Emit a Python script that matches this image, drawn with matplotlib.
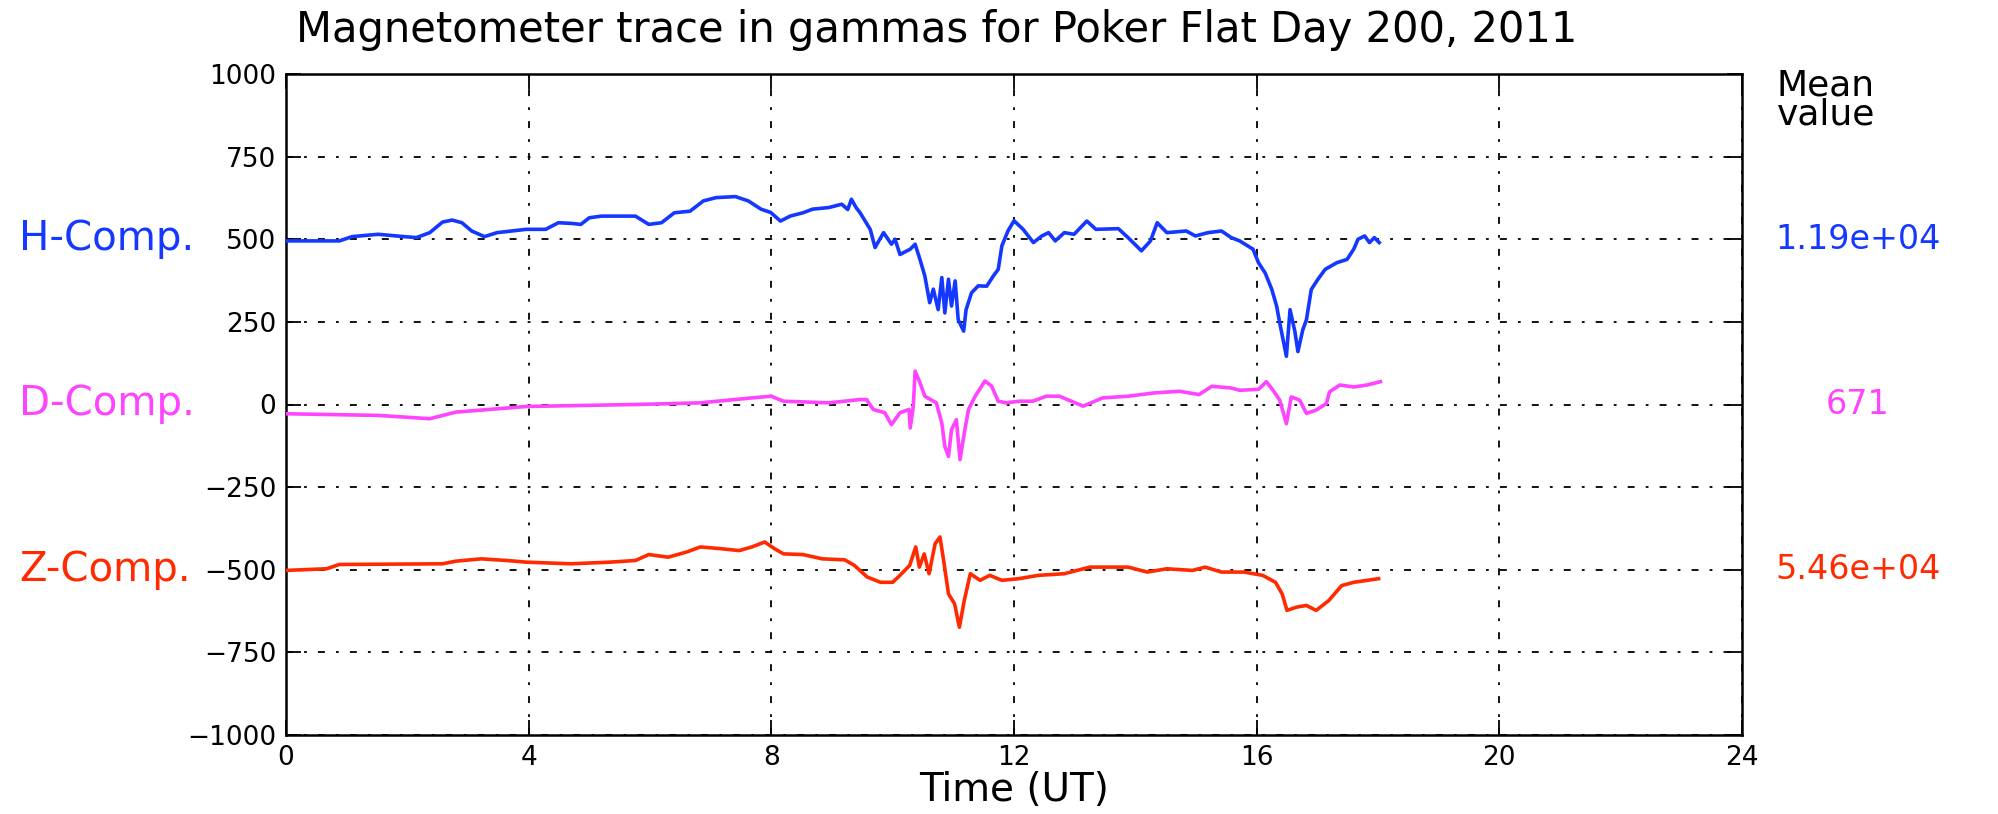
import matplotlib
matplotlib.use('Agg')
import matplotlib.pyplot as plt
import matplotlib.transforms as mtransforms

plt.rcParams['font.family'] = ['DejaVu Sans']
plt.rcParams['lines.scale_dashes'] = False

# H component (gammas, offset around mean), hours UT
h_time = [0.0, 0.88, 1.09, 1.52, 1.94, 2.15, 2.37, 2.58, 2.74, 2.9, 3.06, 3.27, 3.48, 3.96, 4.28, 4.49,
          4.7, 4.86, 5.0, 5.2, 5.76, 5.98, 6.19, 6.4, 6.66, 6.88, 7.09, 7.41, 7.62, 7.83, 7.99, 8.15,
          8.31, 8.52, 8.68, 8.95, 9.16, 9.26, 9.32, 9.4,
          9.46, 9.63, 9.71, 9.85, 9.98, 10.04, 10.12, 10.29, 10.37, 10.45, 10.53, 10.61, 10.67,
          10.75, 10.81, 10.86, 10.92, 10.97, 11.03, 11.08, 11.17, 11.21, 11.3, 11.41, 11.55, 11.66,
          11.74, 11.8, 11.9, 12.0, 12.15, 12.32, 12.46, 12.57, 12.68,
          12.83, 12.99, 13.2, 13.35, 13.72, 13.88, 14.1, 14.25, 14.36, 14.52, 14.84, 14.99, 15.2,
          15.42, 15.58,
          15.72, 15.94, 16.03, 16.14, 16.25, 16.33, 16.38, 16.49, 16.55, 16.63, 16.68, 16.76, 16.82,
          16.9, 17.01, 17.13, 17.32, 17.49, 17.6, 17.67, 17.78, 17.86, 17.94, 18.02]
h_vals = [495, 495, 508, 515, 508, 505, 520, 552, 558, 550, 525, 508, 520, 530, 530, 550,
          548, 545, 565, 570, 570, 545, 550, 580, 585, 616, 626, 629, 616, 591, 581, 555,
          570, 580, 591, 596, 606, 590, 621, 595,
          581, 530, 475, 520, 485, 500, 454, 470, 485, 439, 389, 308, 349,
          287, 384, 277, 379, 298, 374, 257, 222, 287, 338, 359, 358, 389,
          409, 480, 525, 556, 530, 490, 510, 520, 495,
          520, 515, 555, 530, 532, 505, 465, 495, 550, 520, 525, 510, 520,
          525, 505,
          495, 470, 429, 398, 348, 297, 247, 146, 287, 221, 160, 226, 256,
          348, 379, 409, 429, 439, 470, 500, 510, 490, 505, 490]

# D component
d_time = [0.0, 1.52, 2.37, 2.8, 3.96, 5.76, 6.83, 7.68, 8.0, 8.2, 8.95, 9.46,
          9.57, 9.68, 9.87, 9.98, 10.12, 10.27, 10.29, 10.34, 10.37, 10.45, 10.53, 10.72, 10.81,
          10.86, 10.92, 10.97, 11.05, 11.11, 11.19, 11.25, 11.36, 11.52, 11.63, 11.74, 11.87,
          12.09, 12.31, 12.53, 12.75,
          13.14, 13.46, 13.88, 14.31, 14.73, 15.05, 15.26, 15.58,
          15.72, 16.03, 16.16, 16.27, 16.38, 16.49, 16.57, 16.71, 16.82, 16.98, 17.15, 17.2,
          17.37, 17.6, 17.82, 18.04]
d_vals = [-28, -33, -43, -23, -6, 0, 5, 20, 25, 10, 5, 15,
          15, -15, -25, -61, -25, -15, -71, -5, 101, 66, 25, 5, -56,
          -127, -157, -76, -46, -167, -76, -15, 25, 71, 56, 10, 5,
          10, 10, 25, 25,
          -5, 20, 25, 35, 40, 30, 55, 50,
          43, 46, 69, 43, 13, -58, 23, 13, -27, -17, 3, 38,
          59, 53, 59, 69]

# Z component
z_time = [0.0, 0.67, 0.88, 2.58, 2.8, 3.22, 3.64, 3.96, 4.7, 5.34, 5.76, 5.98, 6.3, 6.61, 6.83,
          7.15, 7.47, 7.68, 7.89, 8.05, 8.2, 8.52, 8.84, 9.21, 9.37, 9.58, 9.8, 10.0, 10.12, 10.28,
          10.38, 10.44, 10.52, 10.6, 10.7, 10.78, 10.84, 10.92, 11.02, 11.1, 11.18, 11.28, 11.44,
          11.6, 11.8, 12.08, 12.4, 12.83, 13.25, 13.88, 14.2, 14.52, 14.94, 15.15, 15.42, 15.79,
          16.1, 16.31, 16.42, 16.5, 16.66, 16.82, 16.98, 17.19, 17.4, 17.6, 18.01]
z_vals = [-502, -497, -484, -482, -474, -467, -472, -477, -482, -477, -472, -454, -462, -446, -431,
          -436, -442, -431, -416, -436, -452, -454, -467, -470, -487, -522, -538, -538, -517, -487,
          -431, -492, -452, -512, -421, -401, -472, -573, -603, -674, -593, -512, -532,
          -517, -532, -527, -517, -512, -492, -492, -507, -497, -502, -492, -507, -507,
          -517, -538, -573, -623, -613, -608, -623, -593, -548, -538, -527]

comp_names = ['H-Comp.', 'D-Comp.', 'Z-Comp.']
comp_offsets = [500, 0, -500]
mean_labels = ['1.19e+04', '671', '5.46e+04']
colors = ['#1438ff', '#ff44ff', '#ff2a00']

x_ticks = [0, 4, 8, 12, 16, 20, 24]
y_ticks = [-1000, -750, -500, -250, 0, 250, 500, 750, 1000]

fig = plt.figure(figsize=(19.98, 8.14), dpi=100)
ax = fig.add_axes([286 / 1998, 1 - 735 / 814, 1456 / 1998, 661 / 814])

for t, v, c in zip([h_time, d_time, z_time], [h_vals, d_vals, z_vals], colors):
    ax.plot(t, v, color=c, lw=2.6, zorder=3)

ax.set_xlim(0, 24)
ax.set_ylim(-1000, 1000)
ax.set_xticks(x_ticks)
ax.set_yticks(y_ticks)
ax.grid(True, color='k', lw=1.3, linestyle=(0, (5, 8, 2, 8)))
ax.tick_params(direction='in', length=11, width=1.3, top=True, right=True,
               labelsize=19, pad=7)
for s in ax.spines.values():
    s.set_linewidth(1.8)

ax.set_xlabel('Time (UT)', fontsize=28, labelpad=0)
fig.text(296 / 1998, 1 - 30 / 814, 'Magnetometer trace in gammas for Poker Flat Day 200, 2011',
         fontsize=30, ha='left', va='center')

# component labels on the left, mean values on the right
trans = mtransforms.blended_transform_factory(fig.transFigure, ax.transData)
for name, off, mean, c in zip(comp_names, comp_offsets, mean_labels, colors):
    ax.text(19 / 1998, off, name, color=c, fontsize=29, ha='left', va='center',
            transform=trans)
    ax.text(1858 / 1998, off, mean, color=c, fontsize=24, ha='center', va='center',
            transform=trans)

fig.text(1777 / 1998, 1 - 68 / 814, 'Mean\nvalue', fontsize=26, ha='left', va='top',
         linespacing=0.85)

plt.savefig('out.png', dpi=100)
plt.close()
